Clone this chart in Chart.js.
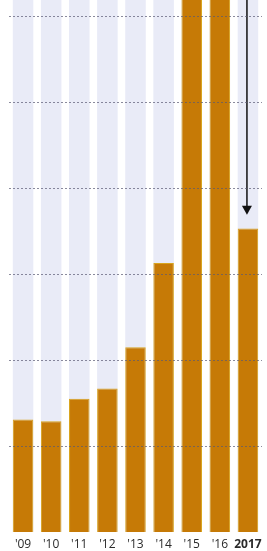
<!DOCTYPE html>
<html>
<head>
<meta charset="utf-8">
<script src="https://cdn.jsdelivr.net/npm/chart.js@4/dist/chart.umd.min.js"></script>
<style>
  html, body { margin: 0; padding: 0; background: #fff; }
  #wrap { width: 267px; height: 551px; position: relative; }
</style>
</head>
<body>
<div id="wrap"><canvas id="chart"></canvas></div>
<script>
// ── DATA ─────────────────────────────────────────────────────────────────────
// Units are gridline steps (the source has no y labels)
const years  = ["'09", "'10", "'11", "'12", "'13", "'14", "'15", "'16", '2017'];
const values = [1.31, 1.29, 1.55, 1.67, 2.15, 3.13, 7.2, 7.4, 3.53];
const gridSteps = [1, 2, 3, 4, 5, 6];

const Y_MAX     = 6.19;   // top of plot (bars for '15 and '16 run off the top)
const ARROW_TIP = 3.69;   // where the arrow stops above the 2017 bar

// ── PLUGINS ──────────────────────────────────────────────────────────────────
// lavender column behind every bar, full plot height
const backdrop = {
  id: 'backdrop',
  beforeDatasetsDraw(chart) {
    const { ctx, chartArea } = chart;
    const meta = chart.getDatasetMeta(0);
    ctx.save();
    ctx.fillStyle = '#e9ebf7';
    meta.data.forEach(bar => {
      ctx.fillRect(bar.x - bar.width / 2, chartArea.top, bar.width, chartArea.bottom - chartArea.top);
    });
    ctx.restore();
  }
};

// black arrow pointing down at the last bar
const arrow = {
  id: 'arrow',
  afterDatasetsDraw(chart) {
    const { ctx, chartArea, scales } = chart;
    const x = scales.x.getPixelForValue(years.length - 1) - 1;
    const tip = scales.y.getPixelForValue(ARROW_TIP);
    ctx.save();
    ctx.strokeStyle = '#111';
    ctx.fillStyle = '#111';
    ctx.lineWidth = 1.5;
    ctx.beginPath();
    ctx.moveTo(x, chartArea.top);
    ctx.lineTo(x, tip - 6);
    ctx.stroke();
    ctx.beginPath();
    ctx.moveTo(x - 5, tip - 9);
    ctx.lineTo(x + 5, tip - 9);
    ctx.lineTo(x, tip);
    ctx.closePath();
    ctx.fill();
    ctx.restore();
  }
};

// ── CHART ────────────────────────────────────────────────────────────────────
new Chart(document.getElementById('chart'), {
  type: 'bar',
  data: {
    labels: years,
    datasets: [{
      data: values,
      backgroundColor: '#c67a06',
      borderColor: '#d9a41c',
      borderWidth: 1,
      borderSkipped: 'bottom',
      barPercentage: 0.73,
      categoryPercentage: 1,
    }]
  },
  options: {
    responsive: true,
    maintainAspectRatio: false,
    animation: false,
    layout: { padding: { left: 9, right: 5, top: 0, bottom: 0 } },
    plugins: { legend: { display: false }, tooltip: { enabled: false } },
    scales: {
      x: {
        grid: { display: false, drawTicks: false },
        border: { display: false },
        afterFit: axis => { axis.height = 19; },
        ticks: {
          padding: 5,
          color: '#2a2a2a',
          maxRotation: 0,
          autoSkip: false,
          font: c => ({
            family: 'Open Sans, DejaVu Sans, sans-serif',
            size: 12,
            weight: c.index === years.length - 1 ? 'bold' : 'normal',
          }),
        },
      },
      y: {
        min: 0,
        max: Y_MAX,
        afterBuildTicks: axis => { axis.ticks = gridSteps.map(v => ({ value: v })); },
        ticks: { display: false },
        border: { display: false, dash: [2, 2] },
        grid: {
          z: 1,   // dotted gridlines sit on top of the bars
          color: 'rgba(90,90,115,0.7)',
          lineWidth: 1,
          drawTicks: false,
        },
        afterFit: axis => { axis.width = 0; },
      }
    }
  },
  plugins: [backdrop, arrow]
});
</script>
</body>
</html>
